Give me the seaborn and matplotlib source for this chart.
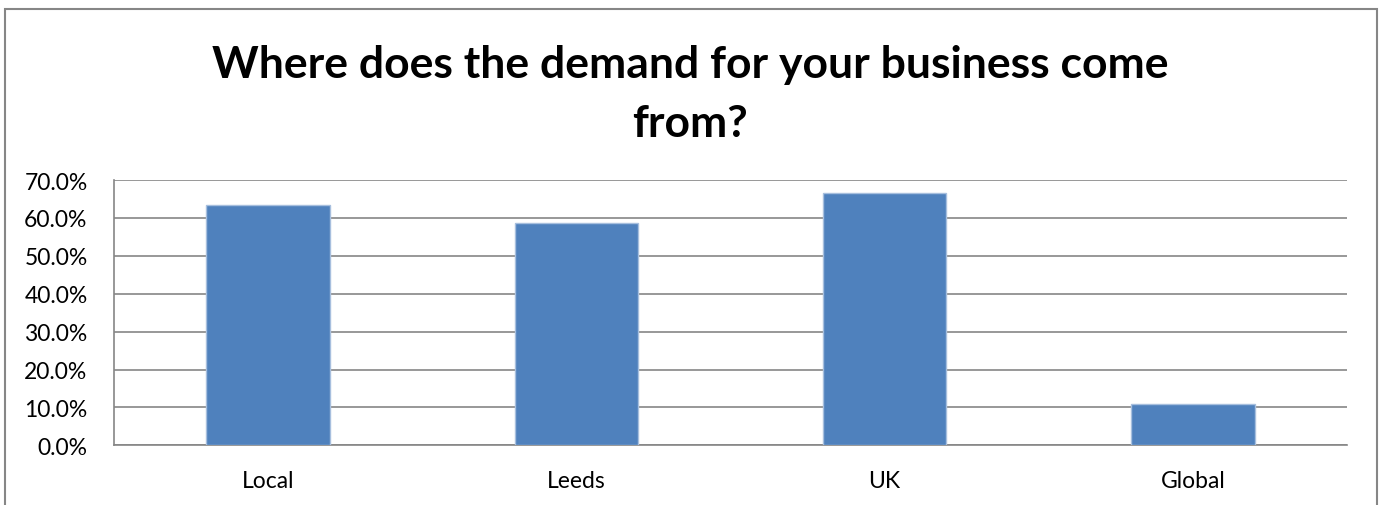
import pandas as pd
import seaborn as sns
import matplotlib.pyplot as plt
from matplotlib.patches import Rectangle
from matplotlib.ticker import FuncFormatter

# values
regions = ['Local', 'Leeds', 'UK', 'Global']
share = [0.633, 0.586, 0.665, 0.109]
yticks = [0.0, 0.1, 0.2, 0.3, 0.4, 0.5, 0.6, 0.7]

df = pd.DataFrame({'region': regions, 'share': share})

sns.set_theme(style='white')
plt.rcParams['font.family'] = ['Lato', 'DejaVu Sans']
plt.rcParams['text.color'] = 'black'

fig = plt.figure(figsize=(13.86, 5.06), dpi=100)
ax = fig.add_axes([114 / 1386, 1 - 446.3 / 506, (1347 - 114) / 1386, (446.3 - 181) / 506])

sns.barplot(data=df, x='region', y='share', ax=ax, color='#4F81BD',
            saturation=1, width=0.4, edgecolor='#A7BFDE', linewidth=1, zorder=3)

ax.set_ylim(0, 0.7)
ax.set_yticks(yticks)
ax.yaxis.set_major_formatter(FuncFormatter(lambda v, p: '{:.1f}%'.format(v * 100)))
ax.set_xlim(-0.5, len(regions) - 0.5)
ax.grid(axis='y', color='#868686', linewidth=1.2, zorder=0)
ax.set_xlabel('')
ax.set_ylabel('')
for s in ['top', 'right']:
    ax.spines[s].set_visible(False)
for s in ['left', 'bottom']:
    ax.spines[s].set_color('#868686')
    ax.spines[s].set_linewidth(1.2)
ax.tick_params(axis='both', length=0, labelsize=16.5, colors='black')
ax.tick_params(axis='y', pad=19)
ax.tick_params(axis='x', pad=18)

fig.text(0.498, 1 - 65 / 506, 'Where does the demand for your business come',
         ha='center', va='center', fontsize=32, fontweight='bold', color='black')
fig.text(0.498, 1 - 124 / 506, 'from?',
         ha='center', va='center', fontsize=32, fontweight='bold', color='black')

# chart border like the spreadsheet frame (bottom edge is cut off in the reference)
fig.patches.append(Rectangle((5 / 1386, -0.05), (1377 - 5) / 1386, 1 - 10 / 506 + 0.05,
                             transform=fig.transFigure, fill=False,
                             edgecolor='#868686', linewidth=1.5))

fig.savefig('out.png', dpi=100)
